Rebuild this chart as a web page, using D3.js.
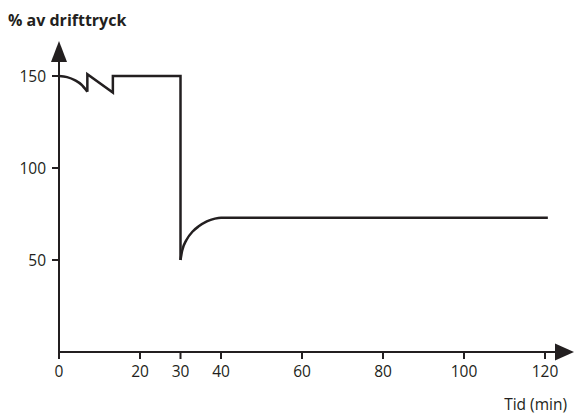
<!DOCTYPE html>
<html><head><meta charset="utf-8">
<script src="https://cdn.jsdelivr.net/npm/d3@7"></script>
<style>body{margin:0;background:#fff}svg{display:block}</style>
</head><body>
<svg id="c" width="574" height="416"></svg>
<script>
const xTicks = [0, 20, 30, 40, 60, 80, 100, 120];
const yTicks = [50, 100, 150];
const yTitle = "% av drifttryck";
const xTitle = "Tid (min)";
// curve segment: initial pressure drop
const startT = [0, 2, 4, 5.5, 7];
const startV = [150, 149.4, 147.6, 145.4, 141.5];
// sawtooth / step segment
const stepT = [7, 7, 13.3, 13.3, 30, 30];
const stepV = [141.5, 151, 141, 150, 150, 50];
// recovery segment
const recT = [30, 30.4, 31.5, 33, 34.5, 36.5, 38.5, 40, 120.7];
const recV = [50, 55, 61, 65.5, 68.3, 71, 72.5, 73, 73];

const ink = "#231f20";
const svg = d3.select("#c");
const x = d3.scaleLinear().domain([0, 120]).range([59, 545]);
const y = d3.scaleLinear().domain([0, 150]).range([352, 76]);

const font = "'Open Sans', sans-serif";

// axes lines
svg.append("line").attr("x1", x(0)).attr("x2", 556).attr("y1", y(0)).attr("y2", y(0))
  .attr("stroke", ink).attr("stroke-width", 2);
svg.append("line").attr("x1", x(0)).attr("x2", x(0)).attr("y1", y(0)).attr("y2", 60)
  .attr("stroke", ink).attr("stroke-width", 2);
// arrowheads
svg.append("path").attr("d", `M${x(0)},41 L${x(0)+8},62 L${x(0)-8},62 Z`).attr("fill", ink);
svg.append("path").attr("d", `M574,${y(0)} L555,${y(0)-8.5} L555,${y(0)+8.5} Z`).attr("fill", ink);

// x ticks
const xg = svg.append("g");
xTicks.forEach(t => {
  xg.append("line").attr("x1", x(t)).attr("x2", x(t)).attr("y1", y(0)).attr("y2", y(0) + 7)
    .attr("stroke", ink).attr("stroke-width", 2);
  xg.append("text").attr("x", x(t)).attr("y", 377).attr("text-anchor", "middle")
    .attr("font-family", font).attr("font-size", 15.5).attr("fill", ink).text(t);
});
// y ticks
yTicks.forEach(t => {
  svg.append("line").attr("x1", x(0) - 7).attr("x2", x(0)).attr("y1", y(t)).attr("y2", y(t))
    .attr("stroke", ink).attr("stroke-width", 2);
  svg.append("text").attr("x", 46).attr("y", y(t)).attr("dy", "0.36em").attr("text-anchor", "end")
    .attr("font-family", font).attr("font-size", 15.5).attr("fill", ink).text(t);
});

svg.append("text").attr("x", 8).attr("y", 26).attr("font-family", font).attr("font-weight", "bold")
  .attr("font-size", 16).attr("fill", ink).text(yTitle);
svg.append("text").attr("x", 567).attr("y", 410).attr("text-anchor", "end").attr("font-family", font)
  .attr("font-size", 15.5).attr("fill", ink).text(xTitle);

const curveLine = d3.line().x(d => x(d[0])).y(d => y(d[1])).curve(d3.curveMonotoneX);
const linLine = d3.line().x(d => x(d[0])).y(d => y(d[1]));
const zip = (a, b) => a.map((v, i) => [v, b[i]]);

const style = p => p.attr("fill", "none").attr("stroke", ink).attr("stroke-width", 2.5)
  .attr("stroke-linejoin", "miter");
svg.append("path").attr("d", curveLine(zip(startT, startV))).call(style);
svg.append("path").attr("d", linLine(zip(stepT, stepV))).call(style);
svg.append("path").attr("d", curveLine(zip(recT, recV))).call(style);
</script>
</body></html>
